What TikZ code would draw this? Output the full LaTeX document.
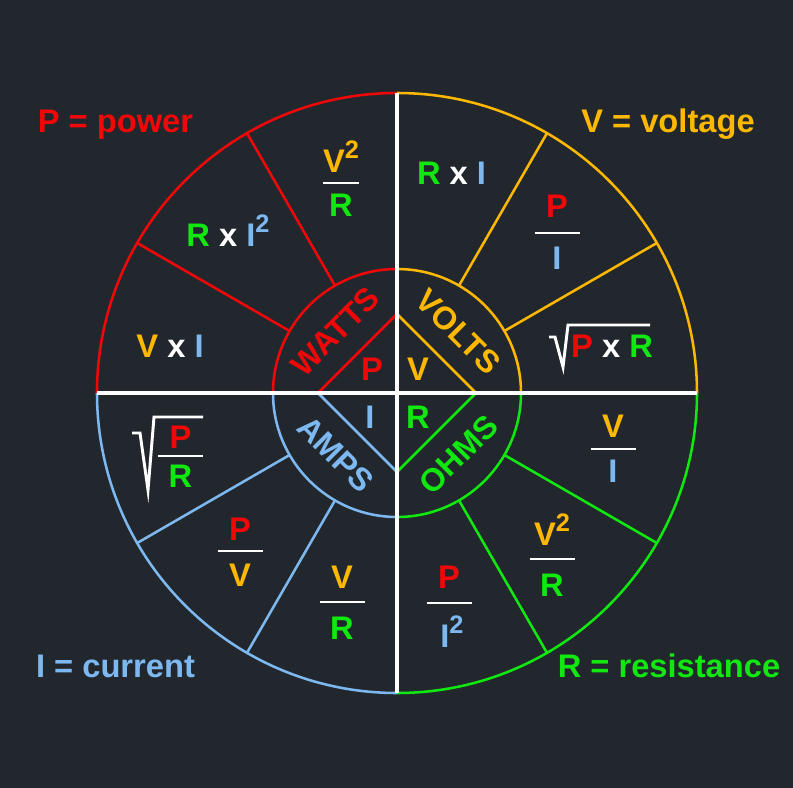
\documentclass[tikz,border=0pt]{standalone}
\usepackage{fontspec}
\setmainfont{Liberation Sans}
\definecolor{bg}{RGB}{34,39,46}
\definecolor{cred}{RGB}{240,8,8}
\definecolor{cgold}{RGB}{255,184,0}
\definecolor{cgreen}{RGB}{16,232,16}
\definecolor{cblue}{RGB}{125,185,240}
\newcommand\sq[1]{\raisebox{10.5pt}{\fontsize{19}{19}\selectfont #1}}
\newcommand\fbar[3]{\draw[fracline] ({#1-#3/2},#2) -- ({#1+#3/2},#2);}
\begin{document}
\begin{tikzpicture}[x=0.75pt,y=-0.75pt,
  lbl/.style={font=\fontsize{24.5}{28}\selectfont\bfseries, inner sep=0pt, anchor=base},
  ring/.style={font=\fontsize{24}{28}\selectfont\bfseries, inner sep=0pt, anchor=center},
  fracline/.style={white, line width=2.2pt},
  rootline/.style={white, line width=2.2pt, line join=miter},
  wheel/.style={line width=1.9pt},
  cross/.style={white, line width=3pt}]
\fill[bg] (0,0) rectangle (793,788);
\path[use as bounding box] (0,0) rectangle (793,788);

\begin{scope}[shift={(397,393)}, y=0.75pt]
  % outer arcs
  \draw[wheel,cred]   (90:300)  arc[start angle=90,  end angle=180, radius=300];
  \draw[wheel,cgold]  (0:300)   arc[start angle=0,   end angle=90,  radius=300];
  \draw[wheel,cgreen] (270:300) arc[start angle=270, end angle=360, radius=300];
  \draw[wheel,cblue]  (180:300) arc[start angle=180, end angle=270, radius=300];
  % inner arcs
  \draw[wheel,cred]   (90:124)  arc[start angle=90,  end angle=180, radius=124];
  \draw[wheel,cgold]  (0:124)   arc[start angle=0,   end angle=90,  radius=124];
  \draw[wheel,cgreen] (270:124) arc[start angle=270, end angle=360, radius=124];
  \draw[wheel,cblue]  (180:124) arc[start angle=180, end angle=270, radius=124];
  % radial dividers
  \draw[wheel,cred]   (120:124) -- (120:300) (150:124) -- (150:300);
  \draw[wheel,cgold]  (30:124) -- (30:300) (60:124) -- (60:300);
  \draw[wheel,cgreen] (300:124) -- (300:300) (330:124) -- (330:300);
  \draw[wheel,cblue]  (210:124) -- (210:300) (240:124) -- (240:300);
  % diamond
  \draw[wheel,cred]   (90:79) -- (180:79);
  \draw[wheel,cgold]  (90:79) -- (0:79);
  \draw[wheel,cgreen] (0:79) -- (270:79);
  \draw[wheel,cblue]  (270:79) -- (180:79);
  % white cross
  \draw[cross] (180:300) -- (0:300);
  \draw[cross] (90:300) -- (270:300);
  % ring labels
  \node[ring,cred,rotate=45]    (watts) at (135:87) {WATTS};
  \node[ring,cgold,rotate=-45]  (volts) at (45:87)  {VOLTS};
  \node[ring,cblue,rotate=-45]  (amps)  at (225:87) {AMPS};
  \node[ring,cgreen,rotate=45]  (ohms)  at (315:87) {OHMS};
\end{scope}

% diamond letters
\node[lbl,cred]   (dp) at (372,380) {P};
\node[lbl,cgold]  (dv) at (418,380) {V};
\node[lbl,cblue]  (di) at (370,428) {I};
\node[lbl,cgreen] (dr) at (418,428) {R};

% corner legends
\node[lbl,cred]   (lp) at (115.5,133) {P = power};
\node[lbl,cgold]  (lv) at (668,133)   {V = voltage};
\node[lbl,cblue]  (li) at (115.5,677) {I = current};
\node[lbl,cgreen] (lr) at (669,677)   {R = resistance};

% top-left quadrant (power)
\node[lbl] (p1) at (170,357) {\textcolor{cgold}{V} \textcolor{white}{x} \textcolor{cblue}{I}};
\node[lbl] (p2) at (228,247) {\textcolor{cgreen}{R} \textcolor{white}{x} \textcolor{cblue}{I\sq{2}}};
\node[lbl,cgold]  (p3n) at (341,173) {V\sq{2}};
\fbar{341}{183}{36}
\node[lbl,cgreen] (p3d) at (341,217) {R};

% top-right quadrant (voltage)
\node[lbl] (v1) at (451.5,185) {\textcolor{cgreen}{R} \textcolor{white}{x} \textcolor{cblue}{I}};
\node[lbl,cred]  (v2n) at (557,218) {P};
\fbar{557}{233}{45}
\node[lbl,cblue] (v2d) at (557,269) {I};
\draw[rootline] (549,337) -- (555,337) -- (563,367) -- (568,325) -- (650,325);
\node[lbl] (v3) at (612,357) {\textcolor{cred}{P} \textcolor{white}{x} \textcolor{cgreen}{R}};

% bottom-right quadrant (resistance)
\node[lbl,cgold] (r1n) at (613,437) {V};
\fbar{613}{449}{45}
\node[lbl,cblue] (r1d) at (613,482) {I};
\node[lbl,cgold]  (r2n) at (552,545) {V\sq{2}};
\fbar{552}{559}{45}
\node[lbl,cgreen] (r2d) at (552,596) {R};
\node[lbl,cred]  (r3n) at (449,588) {P};
\fbar{449}{603}{45}
\node[lbl,cblue] (r3d) at (452,647) {I\sq{2}};

% bottom-left quadrant (current)
\node[lbl,cgold]  (i1n) at (342,588) {V};
\fbar{342}{602}{45}
\node[lbl,cgreen] (i1d) at (342,639) {R};
\node[lbl,cred]   (i2n) at (240,540) {P};
\fbar{240}{551}{45}
\node[lbl,cgold]  (i2d) at (240,586) {V};
\draw[rootline] (132,433) -- (140,433) -- (148,490) -- (154,417) -- (203,417);
\node[lbl,cred]   (i3n) at (180.5,448) {P};
\fbar{180.5}{456}{45}
\node[lbl,cgreen] (i3d) at (180.5,487) {R};
\end{tikzpicture}
\end{document}
